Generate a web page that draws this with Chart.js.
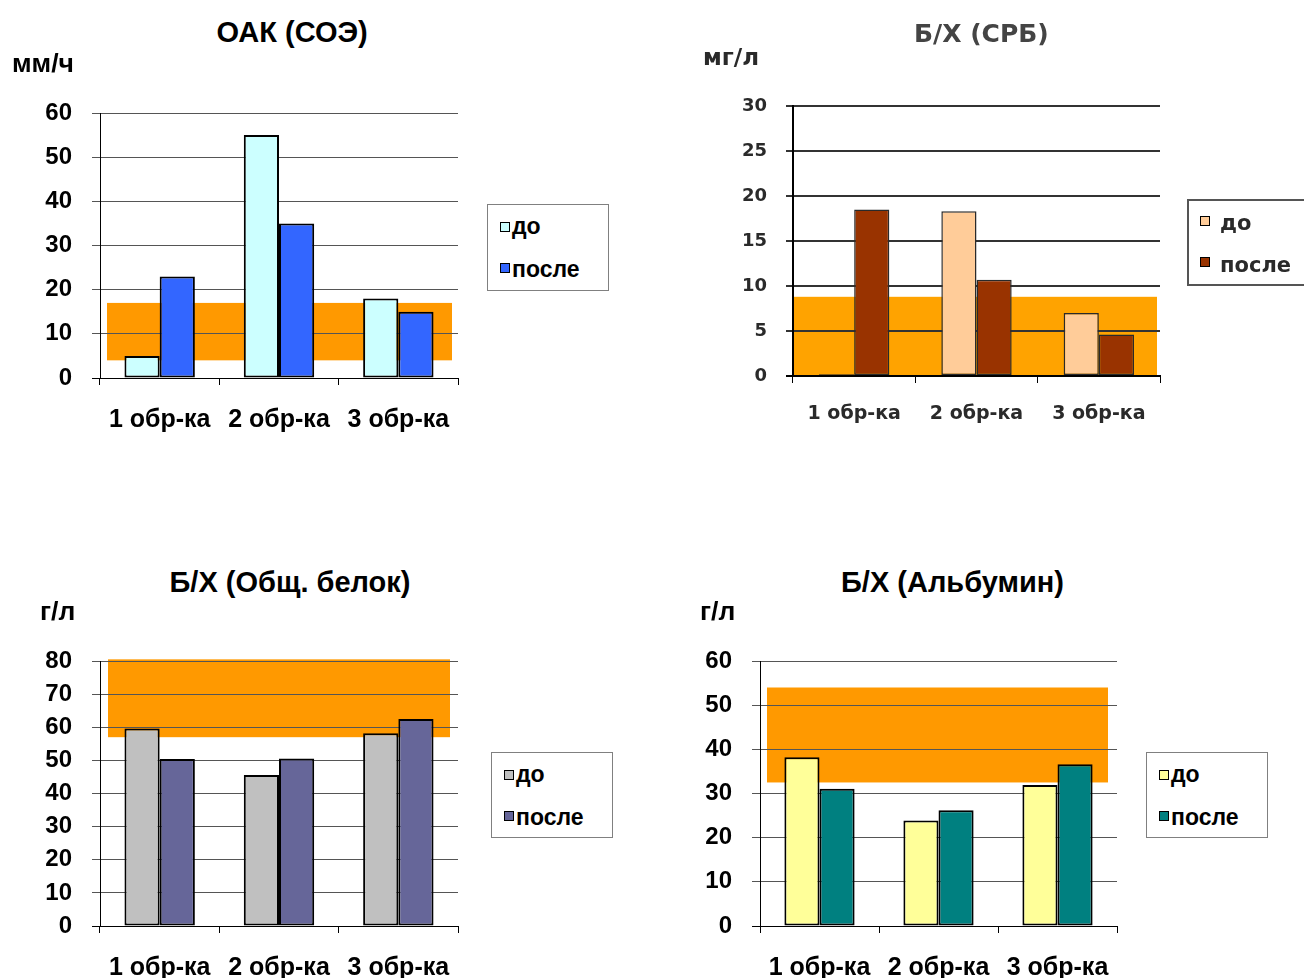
<!DOCTYPE html>
<html><head><meta charset="utf-8">
<script src="https://cdn.jsdelivr.net/npm/chart.js@4.4.1/dist/chart.umd.min.js"></script>
<style>
html,body{margin:0;padding:0;background:#fff;}
#stage{position:relative;width:1304px;height:978px;overflow:hidden;background:#fff;}
canvas{position:absolute;}
.txt{position:absolute;white-space:nowrap;line-height:1;}
.legend{position:absolute;box-sizing:border-box;background:#fff;}
.sw{position:absolute;box-sizing:border-box;}
.soft{filter:blur(0.5px);}
</style></head><body><div id="stage"></div>
<script>
// ---------- DATA ----------
const categories = ['1 обр-ка', '2 обр-ка', '3 обр-ка'];
const seriesLabels = ['до', 'после'];

const esrTitle = 'ОАК (СОЭ)';
const esrUnit = 'мм/ч';
const esrBefore = [5, 55, 18];
const esrAfter = [23, 35, 15];
const esrNorm = [4, 17];
const esrTicks = [0, 10, 20, 30, 40, 50, 60];

const crpTitle = 'Б/Х (СРБ)';
const crpUnit = 'мг/л';
const crpBefore = [0.2, 18.3, 7];
const crpAfter = [18.5, 10.7, 4.6];
const crpNorm = [0, 8.8];
const crpTicks = [0, 5, 10, 15, 20, 25, 30];

const proteinTitle = 'Б/Х (Общ. белок)';
const proteinUnit = 'г/л';
const proteinBefore = [59.6, 45.6, 58.2];
const proteinAfter = [50.4, 50.6, 62.5];
const proteinNorm = [57, 80.5];
const proteinTicks = [0, 10, 20, 30, 40, 50, 60, 70, 80];

const albuminTitle = 'Б/Х (Альбумин)';
const albuminUnit = 'г/л';
const albuminBefore = [38.2, 23.9, 31.9];
const albuminAfter = [31.1, 26.2, 36.6];
const albuminNorm = [32.5, 54];
const albuminTicks = [0, 10, 20, 30, 40, 50, 60];

// ---------- STYLES / LAYOUT ----------
const ARIAL = '"Liberation Sans", Arial, sans-serif';
const DEJAVU = '"DejaVu Sans", Verdana, sans-serif';
const bandColor = '#FF9900';

const charts = [
  { title: esrTitle, unit: esrUnit, before: esrBefore, after: esrAfter, norm: esrNorm, ticks: esrTicks,
    colors: ['#CCFFFF', '#3366FF'], family: ARIAL, asc: 0.8465, textColor: '#000', soft: false,
    tickSize: 24, xSize: 25, titleSize: 29, unitSize: 26.5, legSize: 23,
    grid: '#555', gridW: 1, axisW: 1, barBorder: '#000', barBorderW: 2, band: bandColor, bandInset: [7, 6],
    catPct: 0.59, xPad: 20, yTick: 8, yPad: 20, xTick: 7,
    canvas: { left: 0, top: 70, w: 480, h: 370 }, area: { left: 100, right: 458, top: 113, bottom: 378 },
    titlePos: { cx: 292, base: 43 }, unitPos: { left: 12, base: 72 },
    legend: { left: 487, top: 204, w: 122, h: 87, border: '1px solid #808080', sw: 10, swBorder: 1.5,
              swLeft: 13, swTops: [18, 59], textLeft: 25, bases: [30, 73] } },
  { title: crpTitle, unit: crpUnit, before: crpBefore, after: crpAfter, norm: crpNorm, ticks: crpTicks,
    colors: ['#FFCC99', '#993300'], family: DEJAVU, asc: 0.846, textColor: '#2a2a2a', soft: true,
    tickSize: 18, xSize: 19, titleSize: 25, unitSize: 23, legSize: 21,
    grid: '#333', gridW: 2, axisW: 2, barBorder: '#2a2a2a', barBorderW: 1.5, band: '#FFA300', bandInset: [0, 3],
    catPct: 0.575, xPad: 20, yTick: 7, yPad: 19, xTick: 7,
    canvas: { left: 690, top: 60, w: 490, h: 370 }, area: { left: 793, right: 1160, top: 106, bottom: 376 },
    titlePos: { cx: 981.5, base: 42 }, unitPos: { left: 703, base: 65 }, titleColor: '#444',
    legend: { left: 1187, top: 199, w: 140, h: 87, border: '2px solid #555', sw: 10, swBorder: 1.5,
              swLeft: 13, swTops: [17, 58], textLeft: 33, bases: [32, 74] } },
  { title: proteinTitle, unit: proteinUnit, before: proteinBefore, after: proteinAfter, norm: proteinNorm, ticks: proteinTicks,
    colors: ['#C0C0C0', '#666699'], family: ARIAL, asc: 0.8465, textColor: '#000', soft: false,
    tickSize: 24, xSize: 25, titleSize: 29, unitSize: 26.5, legSize: 23,
    grid: '#555', gridW: 1, axisW: 1, barBorder: '#000', barBorderW: 2, band: bandColor, bandInset: [8, 8],
    catPct: 0.59, xPad: 20, yTick: 8, yPad: 20, xTick: 7,
    canvas: { left: 0, top: 618, w: 480, h: 360 }, area: { left: 100, right: 458, top: 661, bottom: 926 },
    titlePos: { cx: 290, base: 593 }, unitPos: { left: 40, base: 620 },
    legend: { left: 491, top: 752, w: 122, h: 86, border: '1px solid #808080', sw: 10, swBorder: 1.5,
              swLeft: 13, swTops: [18, 59], textLeft: 25, bases: [30, 73] } },
  { title: albuminTitle, unit: albuminUnit, before: albuminBefore, after: albuminAfter, norm: albuminNorm, ticks: albuminTicks,
    colors: ['#FFFF99', '#008080'], family: ARIAL, asc: 0.8465, textColor: '#000', soft: false,
    tickSize: 24, xSize: 25, titleSize: 29, unitSize: 26.5, legSize: 23,
    grid: '#555', gridW: 1, axisW: 1, barBorder: '#000', barBorderW: 2, band: bandColor, bandInset: [7, 9],
    catPct: 0.59, xPad: 20, yTick: 8, yPad: 20, xTick: 7,
    canvas: { left: 660, top: 618, w: 480, h: 360 }, area: { left: 760, right: 1117, top: 661, bottom: 926 },
    titlePos: { cx: 952.5, base: 593 }, unitPos: { left: 700, base: 620 },
    legend: { left: 1146, top: 752, w: 122, h: 86, border: '1px solid #808080', sw: 10, swBorder: 1.5,
              swLeft: 13, swTops: [18, 59], textLeft: 25, bases: [30, 73] } }
];

// Normal range band drawn under the grid lines
const bandPlugin = {
  id: 'normBand',
  beforeDraw(chart, args, opts) {
    if (!opts || !opts.range) return;
    const { ctx, chartArea, scales } = chart;
    const y = scales.y;
    const top = y.getPixelForValue(opts.range[1]);
    const bottom = y.getPixelForValue(opts.range[0]);
    ctx.save();
    ctx.fillStyle = opts.color;
    ctx.fillRect(chartArea.left + opts.inset[0], top,
      chartArea.right - chartArea.left - opts.inset[0] - opts.inset[1], bottom - top);
    ctx.restore();
  }
};

const stage = document.getElementById('stage');

function addText(text, cls, css) {
  const d = document.createElement('div');
  d.className = 'txt' + (cls ? ' ' + cls : '');
  d.textContent = text;
  Object.assign(d.style, css);
  stage.appendChild(d);
  return d;
}

charts.forEach((c) => {
  const cv = document.createElement('canvas');
  cv.width = c.canvas.w; cv.height = c.canvas.h;
  cv.style.left = c.canvas.left + 'px'; cv.style.top = c.canvas.top + 'px';
  cv.style.width = c.canvas.w + 'px'; cv.style.height = c.canvas.h + 'px';
  if (c.soft) cv.className = 'soft';
  stage.appendChild(cv);

  const yWidth = c.area.left - c.canvas.left;
  const xHeight = c.canvas.top + c.canvas.h - c.area.bottom;
  const padTop = c.area.top - c.canvas.top;
  const padRight = c.canvas.left + c.canvas.w - c.area.right;
  const tmin = c.ticks[0], tmax = c.ticks[c.ticks.length - 1], step = c.ticks[1] - c.ticks[0];

  new Chart(cv, {
    type: 'bar',
    data: {
      labels: categories,
      datasets: [
        { label: seriesLabels[0], data: c.before, backgroundColor: c.colors[0],
          borderColor: c.barBorder, borderWidth: c.barBorderW, borderSkipped: false },
        { label: seriesLabels[1], data: c.after, backgroundColor: c.colors[1],
          borderColor: c.barBorder, borderWidth: c.barBorderW, borderSkipped: false }
      ]
    },
    options: {
      responsive: false, animation: false, devicePixelRatio: 1,
      layout: { padding: { left: 0, top: padTop, right: padRight, bottom: 0 } },
      datasets: { bar: { categoryPercentage: c.catPct, barPercentage: 1 } },
      plugins: {
        legend: { display: false }, tooltip: { enabled: false },
        normBand: { range: c.norm, color: c.band, inset: c.bandInset }
      },
      scales: {
        x: {
          afterFit: s => { s.height = xHeight; },
          grid: { offset: true, drawOnChartArea: false, drawTicks: true, tickLength: c.xTick, color: '#000', lineWidth: 1 },
          border: { display: true, color: '#000', width: c.axisW },
          ticks: { color: c.textColor, padding: c.xPad, maxRotation: 0, autoSkip: false,
                   font: { family: c.family, size: c.xSize, weight: 'bold', lineHeight: 1.2 } }
        },
        y: {
          min: tmin, max: tmax,
          afterFit: s => { s.width = yWidth; },
          afterBuildTicks: s => { s.ticks = c.ticks.map(v => ({ value: v })); },
          grid: { drawTicks: true, tickLength: c.yTick, lineWidth: c.gridW,
                  color: ctx => (ctx.tick && ctx.tick.value === tmin) ? '#000' : c.grid },
          border: { display: true, color: '#000', width: c.axisW },
          ticks: { stepSize: step, color: c.textColor, padding: c.yPad,
                   font: { family: c.family, size: c.tickSize, weight: 'bold', lineHeight: 1 } }
        }
      }
    },
    plugins: [bandPlugin]
  });

  // Title & unit
  const soft = c.soft ? 'soft' : '';
  const t = addText(c.title, soft, {
    fontFamily: c.family, fontWeight: 'bold', fontSize: c.titleSize + 'px', color: c.titleColor || c.textColor,
    top: (c.titlePos.base - c.asc * c.titleSize) + 'px', left: '0px'
  });
  t.style.left = (c.titlePos.cx - t.offsetWidth / 2) + 'px';
  addText(c.unit, soft, {
    fontFamily: c.family, fontWeight: 'bold', fontSize: c.unitSize + 'px', color: c.textColor,
    top: (c.unitPos.base - c.asc * c.unitSize) + 'px', left: c.unitPos.left + 'px'
  });

  // Legend box
  const L = c.legend;
  const box = document.createElement('div');
  box.className = 'legend' + (c.soft ? ' soft' : '');
  Object.assign(box.style, { left: L.left + 'px', top: L.top + 'px', width: L.w + 'px', height: L.h + 'px', border: L.border });
  stage.appendChild(box);
  seriesLabels.forEach((lab, i) => {
    const sw = document.createElement('div');
    sw.className = 'sw' + (c.soft ? ' soft' : '');
    Object.assign(sw.style, {
      left: (L.left + L.swLeft) + 'px', top: (L.top + L.swTops[i]) + 'px',
      width: L.sw + 'px', height: L.sw + 'px', background: c.colors[i],
      border: L.swBorder + 'px solid #000'
    });
    stage.appendChild(sw);
    addText(lab, soft, {
      fontFamily: c.family, fontWeight: 'bold', fontSize: c.legSize + 'px', color: c.textColor,
      left: (L.left + L.textLeft) + 'px', top: (L.top + L.bases[i] - c.asc * c.legSize) + 'px'
    });
  });
});
</script>
</body></html>
